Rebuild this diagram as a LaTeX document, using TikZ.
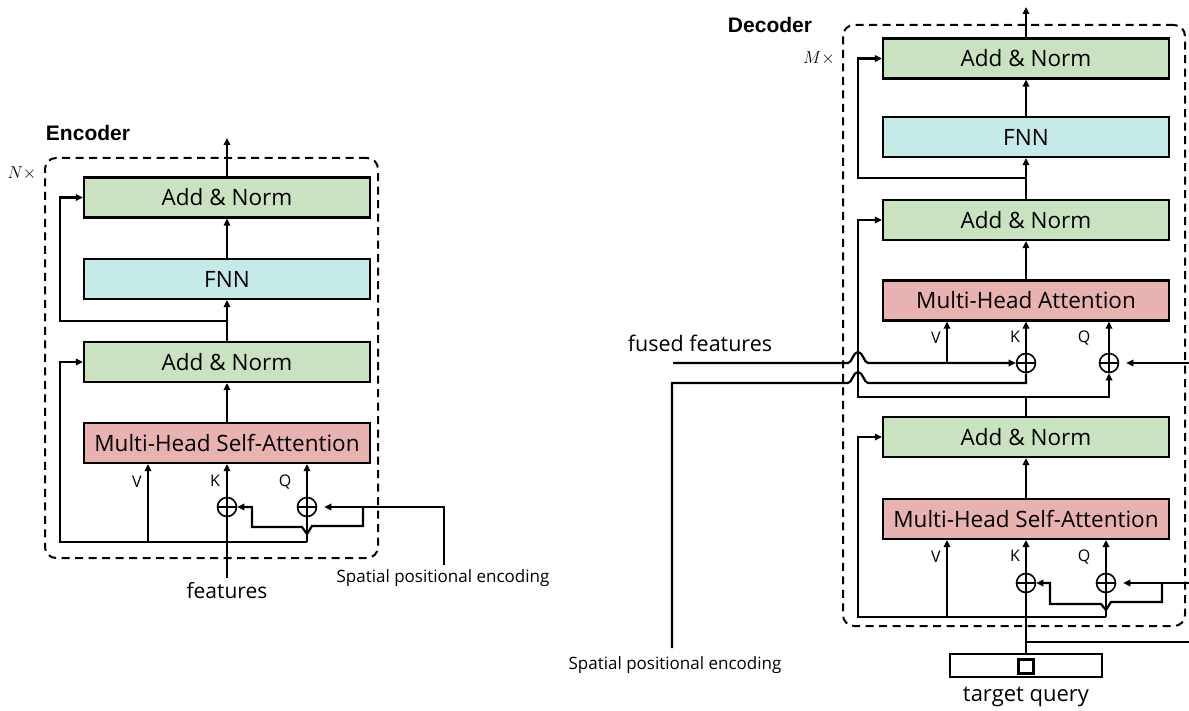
\documentclass[tikz,border=0pt]{standalone}
\usepackage{fontspec}
\setmainfont{Open Sans}
\newfontfamily\labelfont{Liberation Sans}
\usetikzlibrary{arrows.meta}
\definecolor{angreen}{RGB}{201,226,192}
\definecolor{fnncyan}{RGB}{197,234,231}
\definecolor{attpink}{RGB}{232,178,176}
\tikzset{
  blk/.style={draw=black, line width=2.2pt, minimum width=286pt, minimum height=40pt, inner sep=0pt, font=\fontsize{22.5}{26}\selectfont},
  anorm/.style={blk, fill=angreen},
  fnn/.style={blk, fill=fnncyan},
  att/.style={blk, fill=attpink},
  ln/.style={line width=2.2pt},
  arr/.style={ln, -{Triangle[length=7pt,width=6.5pt]}},
  oplus/.style={circle, draw, line width=1.6pt, minimum size=19pt, inner sep=0pt,
    path picture={\draw[line width=1.6pt] (path picture bounding box.north) -- (path picture bounding box.south)
      (path picture bounding box.west) -- (path picture bounding box.east);}},
  frame/.style={draw, dashed, dash pattern=on 8pt off 5.5pt, line width=2pt, rounded corners=11pt},
  qkv/.style={font=\fontsize{16}{18}\selectfont, inner sep=0pt},
  small/.style={font=\fontsize{17}{20}\selectfont, inner sep=0pt},
  title/.style={font=\labelfont\bfseries\fontsize{21}{24}\selectfont, inner sep=0pt},
  rep/.style={font=\fontsize{18}{20}\selectfont, inner sep=0pt}
}
\begin{document}
\begin{tikzpicture}[x=1pt,y=-1pt]
\useasboundingbox (0,0) rectangle (1189,711);

% ================= ENCODER =================
\node[frame, minimum width=333pt, minimum height=400pt, inner sep=0pt] (eFrame) at (211.5,358) {};
\node[title] (eTitle) at (88,133) {Encoder};
\node[rep] (eRep) at (22,173) {$N\times$};

\node[anorm] (eAN2) at (227,197.5) {Add \& Norm};
\node[fnn]   (eFNN) at (227,279) {FNN};
\node[anorm] (eAN1) at (227,362) {Add \& Norm};
\node[att]   (eMHSA) at (227,443) {Multi-Head Self-Attention};
\node[oplus] (eK) at (227,507) {};
\node[oplus] (eQ) at (307,507) {};
\node[qkv] (eVl) at (137,482) {V};
\node[qkv] (eKl) at (215,481) {K};
\node[qkv] (eQl) at (285,482) {Q};
\node[font=\fontsize{21}{24}\selectfont, inner sep=0pt] (eFeat) at (227,591) {features};
\node[small] (eSpe) at (443,578) {Spatial positional encoding};

\coordinate (eOut) at (227,138);
\coordinate (eR1) at (227,321);
\coordinate (eB) at (307,542);
\coordinate (eV) at (148,542);
\coordinate (eFin) at (227,578);
\coordinate (eP) at (444,565);
\coordinate (eJ) at (363,507);

\draw[arr] (eAN2.north) -- (eOut);
\draw[arr] (eFNN.north) -- (eAN2.south);
\draw[arr] (eAN1.north) -- (eFNN.south);
\draw[arr] (eR1) -- ++(-167,0) |- (eAN2.west);
\draw[arr] (eMHSA.north) -- (eAN1.south);
\draw[arr] (eB) -- ++(-247,0) |- (eAN1.west);
\draw[arr] (eV) -- (eV |- eMHSA.south);
\draw[ln] (eB) -- (eQ.south);
\draw[arr] (eQ.north) -- (eQ.north |- eMHSA.south);
\draw[ln] (eFin) -- (eK.south);
\draw[arr] (eK.north) -- (eK.north |- eMHSA.south);
\draw[arr] (eP) |- ([xshift=7pt]eQ.east);
\draw[arr] (eJ) -- ++(0,19) -- ++(-51,0) -- ++(-5,8) -- ++(-5,-7) -- ++(-50,0) |- (eK.east);

% ================= DECODER =================
\node[frame, minimum width=342pt, minimum height=601pt, inner sep=0pt] (dFrame) at (1014,325.5) {};
\node[title] (dTitle) at (770,25) {Decoder};
\node[rep] (dRep) at (819,58) {$M\times$};

\node[anorm] (dAN3) at (1026,58.5) {Add \& Norm};
\node[fnn]   (dFNN) at (1026,137) {FNN};
\node[anorm] (dAN2) at (1026,220) {Add \& Norm};
\node[att]   (dMHA) at (1026,300.5) {Multi-Head Attention};
\node[anorm] (dAN1) at (1026,437) {Add \& Norm};
\node[att]   (dMHSA) at (1026,519) {Multi-Head Self-Attention};

\node[oplus] (dK1) at (1026,363) {};
\node[oplus] (dQ1) at (1109,363) {};
\node[oplus] (dK2) at (1026,583) {};
\node[oplus] (dQ2) at (1106,583) {};

\node[qkv] (dVl1) at (936,338) {V};
\node[qkv] (dKl1) at (1015,337) {K};
\node[qkv] (dQl1) at (1084,338) {Q};
\node[qkv] (dVl2) at (936,557) {V};
\node[qkv] (dKl2) at (1015,556) {K};
\node[qkv] (dQl2) at (1084,557) {Q};

\node[font=\fontsize{21.5}{24}\selectfont, inner sep=0pt] (dFused) at (700,343) {fused features};
\node[small] (dSpe) at (675,665) {Spatial positional encoding};
\node[draw, line width=1.2pt, minimum width=152pt, minimum height=23pt, inner sep=0pt] (dT) at (1026,665.5) {};
\node[draw, line width=2.2pt, minimum width=15pt, minimum height=14pt, inner sep=0pt] (dTsq) at (1026,666.5) {};
\node[font=\fontsize{22}{25}\selectfont, inner sep=0pt] (dTq) at (1026,697) {target query};

\coordinate (dOut) at (1026,7);
\coordinate (dR3) at (1026,178);
\coordinate (dJ) at (1026,397);
\coordinate (dP1) at (1189,363);
\coordinate (dF) at (673,363);
\coordinate (dV1) at (947,363);
\coordinate (dSP) at (672,648);
\coordinate (dB) at (1106,617);
\coordinate (dV2) at (947,617);
\coordinate (dTJ) at (1026,642);
\coordinate (dTE) at (1189,642);
\coordinate (dP2) at (1189,583);
\coordinate (dJ2) at (1162,583);

\draw[arr] (dAN3.north) -- (dOut);
\draw[arr] (dFNN.north) -- (dAN3.south);
\draw[arr] (dAN2.north) -- (dFNN.south);
\draw[arr] (dR3) -- ++(-168,0) |- (dAN3.west);
\draw[arr] (dMHA.north) -- (dAN2.south);
\draw[ln] (dAN1.north) -- (dJ);
\draw[arr] (dJ) -- ++(-168,0) |- (dAN2.west);
\draw[arr] (dJ) -| (dQ1.south);
\draw[arr] (dQ1.north) -- (dQ1.north |- dMHA.south);
\draw[arr] (dK1.north) -- (dK1.north |- dMHA.south);
\draw[arr] (dP1) -- ([xshift=7pt]dQ1.east);
\draw[arr] (dF) -- (848,363) .. controls (852,363) and (853,352) .. (858,352)
  .. controls (863,352) and (864,363) .. (868,363) -- (dK1.west);
\draw[arr] (dV1) -- (dV1 |- dMHA.south);
\draw[ln] (dSP) -- (672,383) -- (848,383) .. controls (852,383) and (853,372) .. (858,372)
  .. controls (863,372) and (864,383) .. (868,383) -| (dK1.south);

\draw[arr] (dMHSA.north) -- (dAN1.south);
\draw[arr] (dB) -- ++(-248,0) |- (dAN1.west);
\draw[arr] (dV2) -- (dV2 |- dMHSA.south);
\draw[ln] (dB) -- (dQ2.south);
\draw[arr] (dQ2.north) -- (dQ2.north |- dMHSA.south);
\draw[arr] (dK2.north) -- (dK2.north |- dMHSA.south);
\draw[ln] (dT.north) -- (dK2.south);
\draw[ln] (dTJ) -- (dTE);
\draw[arr] (dP2) -- ([xshift=7pt]dQ2.east);
\draw[arr] (dJ2) -- ++(0,19) -- ++(-51,0) -- ++(-5,8) -- ++(-5,-6) -- ++(-51,0) |- (dK2.east);
\end{tikzpicture}
\end{document}
